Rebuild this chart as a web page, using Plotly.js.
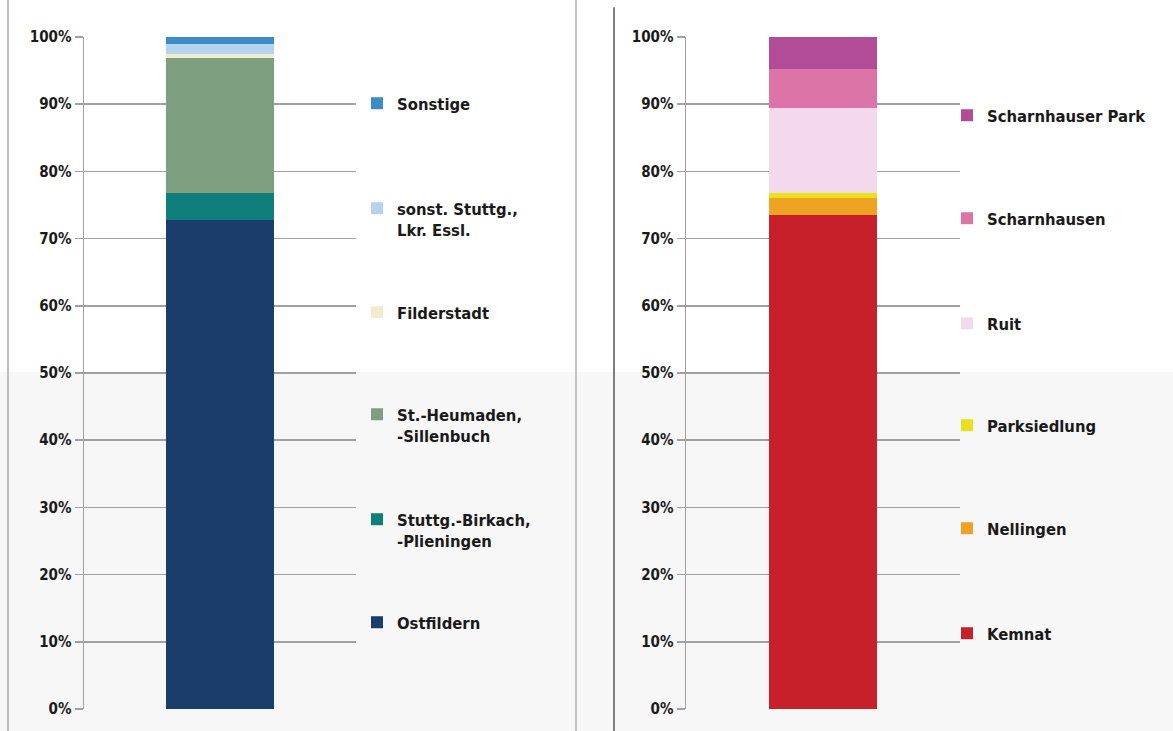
<!DOCTYPE html>
<html>
<head>
<meta charset="utf-8">
<script src="https://cdn.plot.ly/plotly-3.0.1.min.js"></script>
<style>html,body{margin:0;padding:0;background:#fff;}#chart{width:1173px;height:731px;}</style>
</head>
<body>
<div id="chart"></div>
<script>
// ---- data ----
const leftCategories = ['Ostfildern', 'Stuttg.-Birkach,<br>-Plieningen', 'St.-Heumaden,<br>-Sillenbuch', 'Filderstadt', 'sonst. Stuttg.,<br>Lkr. Essl.', 'Sonstige'];
const leftValues = [72.8, 4.0, 20.1, 0.5, 1.6, 1.0];
const rightCategories = ['Kemnat', 'Nellingen', 'Parksiedlung', 'Ruit', 'Scharnhausen', 'Scharnhauser Park'];
const rightValues = [73.5, 2.5, 0.8, 12.7, 5.8, 4.7];
const tickValues = [0, 10, 20, 30, 40, 50, 60, 70, 80, 90, 100];
const tickLabels = ['0%', '10%', '20%', '30%', '40%', '50%', '60%', '70%', '80%', '90%', '100%'];

// ---- styles ----
const leftColors = ['#1b3d6b', '#0f7f7b', '#7e9e80', '#efeccf', '#b5d3ec', '#3b8cc6'];
const rightColors = ['#c8202a', '#eea322', '#e8e21c', '#f4d9ec', '#dc74a8', '#b24b98'];
// legend first-line centre (px from top)
const leftLegendY = [620, 517, 412, 310, 206, 101];
const rightLegendY = [631, 526, 423, 321, 216, 113];
const W = 1173, H = 731;
const leftLegendX = 357, rightLegendX = 947;

const FONT = 'DejaVu Sans Condensed, DejaVu Sans, sans-serif';
const traces = [];
const layout = {
  width: W, height: H,
  margin: {l: 0, r: 0, t: 0, b: 0},
  paper_bgcolor: 'rgba(0,0,0,0)',
  plot_bgcolor: 'rgba(0,0,0,0)',
  barmode: 'stack',
  font: {family: FONT, size: 15, color: '#1a1a1a', weight: 'bold'},
  showlegend: true,
  shapes: [
    {type: 'rect', xref: 'paper', yref: 'paper', x0: 0, x1: 1, y0: 0, y1: (H - 372) / H, fillcolor: '#f7f7f7', line: {width: 0}, layer: 'below'},
    {type: 'line', xref: 'paper', yref: 'paper', x0: 8 / W, x1: 8 / W, y0: 0, y1: 1, line: {color: '#a8a8a8', width: 1.5}},
    {type: 'line', xref: 'paper', yref: 'paper', x0: 576 / W, x1: 576 / W, y0: 0, y1: 1, line: {color: '#b0b0b0', width: 1.5}},
    {type: 'line', xref: 'paper', yref: 'paper', x0: 614 / W, x1: 614 / W, y0: 0, y1: 0.99, line: {color: '#555555', width: 1.5}}
  ]
};

function yAxis(anchor) {
  return {
    domain: [(H - 709) / H, (H - 37) / H],
    range: [0, 100], autorange: false, anchor: anchor,
    tickmode: 'array', tickvals: tickValues, ticktext: tickLabels,
    ticks: 'outside', ticklen: 8, tickcolor: '#a0a0a0', tickwidth: 1.5,
    showline: true, linecolor: '#a0a0a0', linewidth: 1.5,
    showgrid: true, gridcolor: '#a0a0a0', gridwidth: 1.5,
    zeroline: false,
    tickfont: {family: FONT, size: 15, color: '#1a1a1a', weight: 'bold'},
    fixedrange: true
  };
}
function xAxis(domain, anchor) {
  return {
    domain: domain, range: [-0.5, 0.5], autorange: false, anchor: anchor,
    showticklabels: false, showgrid: false, zeroline: false, showline: false, ticks: '',
    fixedrange: true
  };
}
layout.xaxis = xAxis([84 / W, 356 / W], 'y');
layout.yaxis = yAxis('x');
layout.xaxis2 = xAxis([686 / W, 960 / W], 'y2');
layout.yaxis2 = yAxis('x2');

function addSide(cats, vals, colors, legendYs, legendX, xa, ya, offset) {
  cats.forEach((name, i) => {
    const legName = 'legend' + (offset + i === 0 ? '' : (offset + i + 1));
    traces.push({
      type: 'bar', x: [0], y: [vals[i]], name: name, width: 0.395,
      marker: {color: colors[i], line: {width: 0}},
      xaxis: xa, yaxis: ya, legend: legName, showlegend: true,
      hoverinfo: 'name+y'
    });
    layout[legName] = {
      x: legendX / W, xanchor: 'left',
      y: (H - (legendYs[i] - 15)) / H, yanchor: 'top',
      bgcolor: 'rgba(0,0,0,0)', borderwidth: 0,
      valign: 'top',
      font: {family: FONT, size: 16.5, color: '#1a1a1a', weight: 'bold'}
    };
  });
}
addSide(leftCategories, leftValues, leftColors, leftLegendY, leftLegendX, 'x', 'y', 0);
addSide(rightCategories, rightValues, rightColors, rightLegendY, rightLegendX, 'x2', 'y2', 6);

Plotly.newPlot('chart', traces, layout, {displayModeBar: false, staticPlot: true});
</script>
</body>
</html>
